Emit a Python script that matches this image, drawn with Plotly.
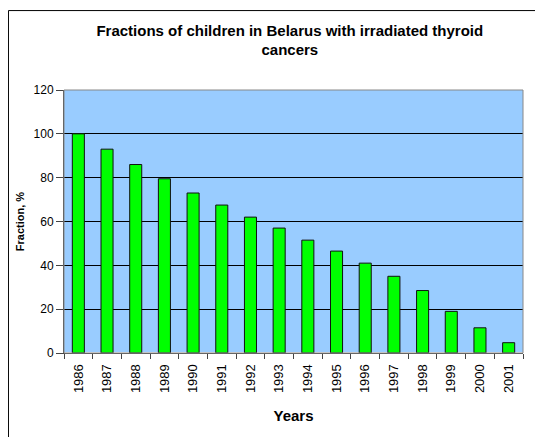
import plotly.graph_objects as go

years = [str(y) for y in range(1986, 2002)]
fraction = [100, 93, 86, 79.5, 73, 67.5, 62, 57, 51.5, 46.5, 41, 35, 28.5, 19, 11.5, 4.7]

fig = go.Figure()
fig.add_trace(go.Bar(x=years, y=fraction, marker=dict(color="#00FF00", line=dict(color="#111111", width=1))))

fig.update_layout(
    width=543, height=437,
    margin=dict(l=56, r=28, t=82, b=92, autoexpand=False),
    paper_bgcolor="white",
    plot_bgcolor="#99CCFF",
    font=dict(family="Arial, Liberation Sans", color="black"),
    title=dict(text="<b>Fractions of children in Belarus with irradiated thyroid<br>cancers</b>",
               x=0.519, xanchor="center", y=0.936, yanchor="top", font=dict(size=15)),
    bargap=0.58,
    showlegend=False,
    shapes=[dict(type="rect", xref="paper", yref="paper", x0=-0.121, x1=1.2, y0=-0.5, y1=1.302,
                 line=dict(color="black", width=1))],
)
fig.update_yaxes(range=[0, 120], dtick=20, showgrid=True, gridcolor="black", gridwidth=1,
                 showline=True, linecolor="#444444", ticks="outside", ticklen=7, tickcolor="#444444",
                 tickfont=dict(size=12), automargin=False,
                 title=dict(text="<b>Fraction, %</b>", font=dict(size=11), standoff=6))
fig.update_xaxes(showline=True, linecolor="#444444", ticks="outside", ticklen=5, tickcolor="#444444",
                 tickson="boundaries", tickangle=-90, tickfont=dict(size=13), automargin=False,
                 ticklabelstandoff=5,
                 title=dict(text="<b>Years</b>", font=dict(size=15), standoff=18))
fig.add_shape(type="rect", xref="paper", yref="paper", x0=0, x1=1, y0=0, y1=1,
              line=dict(color="#888888", width=1))

fig.write_html("out.html")
